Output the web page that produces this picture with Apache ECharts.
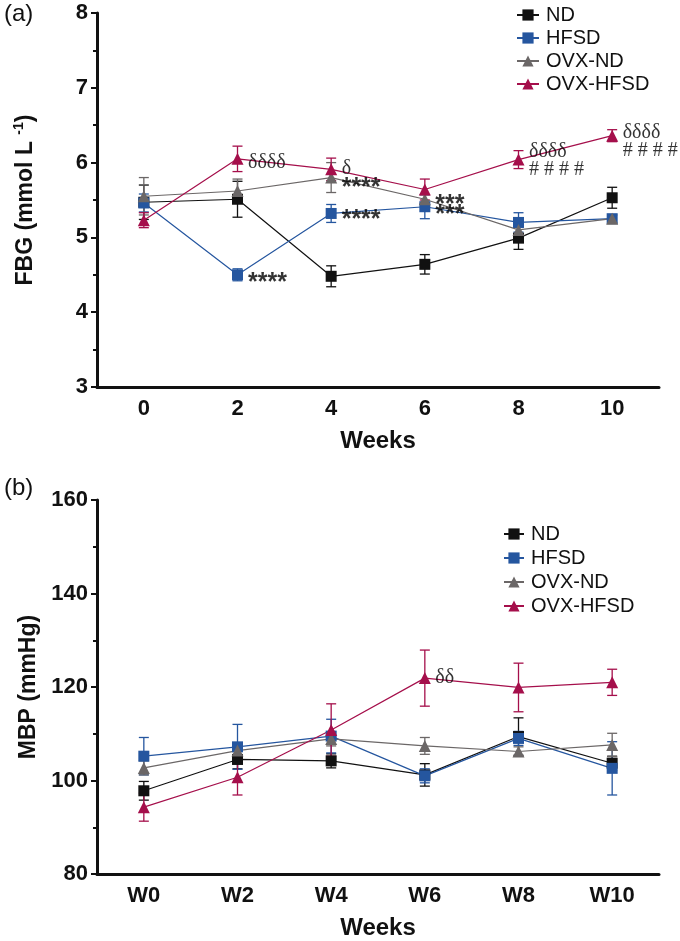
<!DOCTYPE html>
<html>
<head>
<meta charset="utf-8">
<script src="https://cdn.jsdelivr.net/npm/echarts@6/dist/echarts.min.js"></script>
<style>
  html, body { margin: 0; padding: 0; background: #fff; }
  #main { width: 680px; height: 941px; }
</style>
</head>
<body>
<div id="main"></div>
<script>
// 两个面板: (a) FBG, (b) MBP
var myChart = echarts.init(document.getElementById('main'));

const groups = ['ND', 'HFSD', 'OVX-ND', 'OVX-HFSD'];
const colors = ['#111111', '#25569f', '#6b6767', '#a50f4b'];
const symbols = ['rect', 'rect', 'triangle', 'triangle'];

// panel (a)
const weeksA = ['0', '2', '4', '6', '8', '10'];
const fbgND = [5.47, 5.51, 4.48, 4.64, 4.99, 5.53];
const fbgNDErr = [0.23, 0.24, 0.14, 0.13, 0.15, 0.14];
const fbgHFSD = [5.46, 4.50, 5.32, 5.41, 5.20, 5.25];
const fbgHFSDErr = [0.12, 0.08, 0.12, 0.16, 0.13, 0.05];
const fbgOvxND = [5.55, 5.62, 5.80, 5.51, 5.10, 5.25];
const fbgOvxNDErr = [0.25, 0.16, 0.20, 0.06, 0.06, 0.05];
const fbgOvxHFSD = [5.23, 6.05, 5.91, 5.64, 6.04, 6.36];
const fbgOvxHFSDErr = [0.10, 0.17, 0.15, 0.14, 0.12, 0.08];
const fbgTicks = [3, 4, 5, 6, 7, 8];

// panel (b)
const weeksB = ['W0', 'W2', 'W4', 'W6', 'W8', 'W10'];
const mbpND = [97.8, 104.5, 104.2, 101.2, 109.4, 103.7];
const mbpNDErr = [2.0, 2.0, 1.5, 2.4, 4.0, 1.5];
const mbpHFSD = [105.2, 107.2, 109.5, 101.0, 109.0, 102.6];
const mbpHFSDErr = [4.0, 4.8, 3.6, 1.5, 1.5, 5.7];
const mbpOvxND = [102.7, 106.4, 108.9, 107.4, 106.2, 107.6];
const mbpOvxNDErr = [1.5, 1.5, 1.5, 1.8, 1.0, 2.5];
const mbpOvxHFSD = [94.3, 100.7, 110.8, 121.9, 119.9, 121.0];
const mbpOvxHFSDErr = [3.0, 3.8, 5.6, 6.0, 5.2, 2.8];
const mbpTicks = [80, 100, 120, 140, 160];

// 显著性标记 [x, y, text, kind]
const annotA = [
  ['2', 6.00, 'δδδδ', 'delta'],
  ['2', 4.47, '****', 'star'],
  ['4', 5.92, 'δ', 'delta'],
  ['4', 5.74, '****', 'star'],
  ['4', 5.31, '****', 'star'],
  ['6', 5.51, '***', 'star'],
  ['6', 5.38, '***', 'star'],
  ['8', 6.14, 'δδδδ', 'delta'],
  ['8', 5.91, '# # # #', 'hash'],
  ['10', 6.40, 'δδδδ', 'delta'],
  ['10', 6.16, '# # # #', 'hash']
];
const annotB = [
  ['W6', 121.9, 'δδ', 'delta']
];

const valsA = [fbgND, fbgHFSD, fbgOvxND, fbgOvxHFSD];
const errsA = [fbgNDErr, fbgHFSDErr, fbgOvxNDErr, fbgOvxHFSDErr];
const valsB = [mbpND, mbpHFSD, mbpOvxND, mbpOvxHFSD];
const errsB = [mbpNDErr, mbpHFSDErr, mbpOvxNDErr, mbpOvxHFSDErr];

const tickFont = { fontFamily: 'Liberation Sans, Arial', fontWeight: 'bold', fontSize: 22, color: '#111' };
const nameFont = { fontFamily: 'Liberation Sans, Arial', fontWeight: 'bold', fontSize: 23, color: '#111' };

function errorBar(gi, idx, vals, errs) {
  return {
    type: 'custom',
    xAxisIndex: gi,
    yAxisIndex: gi,
    z: 1,
    silent: true,
    data: vals.map((v, i) => [i, v - errs[i], v + errs[i]]),
    renderItem: function (params, api) {
      const lo = api.coord([api.value(0), api.value(1)]);
      const hi = api.coord([api.value(0), api.value(2)]);
      const w = 5;
      const style = { stroke: colors[idx], lineWidth: 1.3 };
      return {
        type: 'group',
        children: [
          { type: 'line', shape: { x1: lo[0], y1: lo[1], x2: hi[0], y2: hi[1] }, style: style },
          { type: 'line', shape: { x1: lo[0] - w, y1: lo[1], x2: lo[0] + w, y2: lo[1] }, style: style },
          { type: 'line', shape: { x1: hi[0] - w, y1: hi[1], x2: hi[0] + w, y2: hi[1] }, style: style }
        ]
      };
    }
  };
}

function lineSeries(gi, idx, vals) {
  return {
    type: 'line',
    name: groups[idx],
    xAxisIndex: gi,
    yAxisIndex: gi,
    z: 3,
    data: vals,
    symbol: symbols[idx],
    symbolSize: symbols[idx] == 'rect' ? 11 : 12,
    showAllSymbol: true,
    lineStyle: { color: colors[idx], width: 1.2 },
    itemStyle: { color: colors[idx] },
    emphasis: { disabled: true }
  };
}

function annotSeries(gi, list) {
  return {
    type: 'scatter',
    xAxisIndex: gi,
    yAxisIndex: gi,
    z: 5,
    silent: true,
    symbolSize: 1,
    itemStyle: { color: 'rgba(0,0,0,0)' },
    data: list.map(a => ({
      value: [a[0], a[1]],
      label: {
        show: true,
        position: 'right',
        distance: 10,
        formatter: a[2],
        color: '#000',
        fontSize: a[3] == 'star' ? 25 : 20,
        fontFamily: a[3] == 'star' ? 'Liberation Sans, Arial' : 'Liberation Serif, Times New Roman',
        fontWeight: a[3] == 'star' ? 'bold' : 'normal',
        offset: a[3] == 'star' ? [0, 6] : [0, 0]
      }
    }))
  };
}

const series = [];
for (let i = 0; i < 4; i++) {
  series.push(lineSeries(0, i, valsA[i]));
  series.push(lineSeries(1, i, valsB[i]));
}
for (let i = 0; i < 4; i++) {
  series.push(errorBar(0, i, valsA[i], errsA[i]));
  series.push(errorBar(1, i, valsB[i], errsB[i]));
}
series.push(annotSeries(0, annotA));
series.push(annotSeries(1, annotB));

function xAxisOf(gi, cats) {
  return {
    type: 'category',
    gridIndex: gi,
    data: cats,
    boundaryGap: true,
    name: 'Weeks',
    nameLocation: 'middle',
    nameGap: 42,
    nameTextStyle: Object.assign({}, nameFont, { fontSize: 24 }),
    axisLine: { lineStyle: { color: '#111', width: 3 } },
    axisTick: { alignWithLabel: true, length: 6, lineStyle: { width: 2, color: '#111' } },
    axisLabel: Object.assign({ margin: 11 }, tickFont),
    splitLine: { show: false }
  };
}

function yAxisOf(gi, ticks, name, rich) {
  const step = ticks[1] - ticks[0];
  return {
    type: 'value',
    gridIndex: gi,
    min: ticks[0],
    max: ticks[ticks.length - 1],
    interval: step,
    name: name,
    nameLocation: 'middle',
    nameGap: 57,
    nameTextStyle: Object.assign({ rich: rich }, nameFont),
    axisLine: { show: true, lineStyle: { color: '#111', width: 3 } },
    axisTick: { show: true, length: 6, lineStyle: { width: 2, color: '#111' } },
    minorTick: { show: true, splitNumber: 2, length: 4, lineStyle: { width: 2, color: '#111' } },
    axisLabel: Object.assign({ margin: 9 }, tickFont),
    splitLine: { show: false }
  };
}

const richA = {
  b: { fontFamily: 'Liberation Sans, Arial', fontWeight: 'bold', fontSize: 23, color: '#111', lineHeight: 28 },
  s: { fontFamily: 'Liberation Sans, Arial', fontWeight: 'bold', fontSize: 14, color: '#111', lineHeight: 28, verticalAlign: 'top' }
};

function legendOf(left, top, gap, w) {
  return {
    orient: 'vertical',
    left: left,
    top: top,
    itemWidth: w,
    itemHeight: 14,
    itemGap: gap,
    data: groups,
    selectedMode: false,
    textStyle: { fontFamily: 'Liberation Sans, Arial', fontSize: 20, color: '#111', lineHeight: 20, padding: [0, 0, 0, 2] }
  };
}

const option = {
  animation: false,
  backgroundColor: '#fff',
  grid: [
    { left: 97, right: 21, top: 13, height: 374 },
    { left: 97, right: 21, top: 500, height: 375 }
  ],
  xAxis: [xAxisOf(0, weeksA), xAxisOf(1, weeksB)],
  yAxis: [
    yAxisOf(0, fbgTicks, '{b|FBG (mmol L }{s|-1}{b|)}', richA),
    yAxisOf(1, mbpTicks, 'MBP (mmHg)', richA)
  ],
  legend: [legendOf(511, 0, 3, 22), legendOf(498, 519, 4, 20)],
  graphic: [
    { type: 'text', left: 4, top: 2, style: { text: '(a)', fontFamily: 'Liberation Sans, Arial', fontSize: 24, fill: '#111' } },
    { type: 'text', left: 4, top: 476, style: { text: '(b)', fontFamily: 'Liberation Sans, Arial', fontSize: 24, fill: '#111' } }
  ],
  series: series
};
myChart.setOption(option);
</script>
</body>
</html>
